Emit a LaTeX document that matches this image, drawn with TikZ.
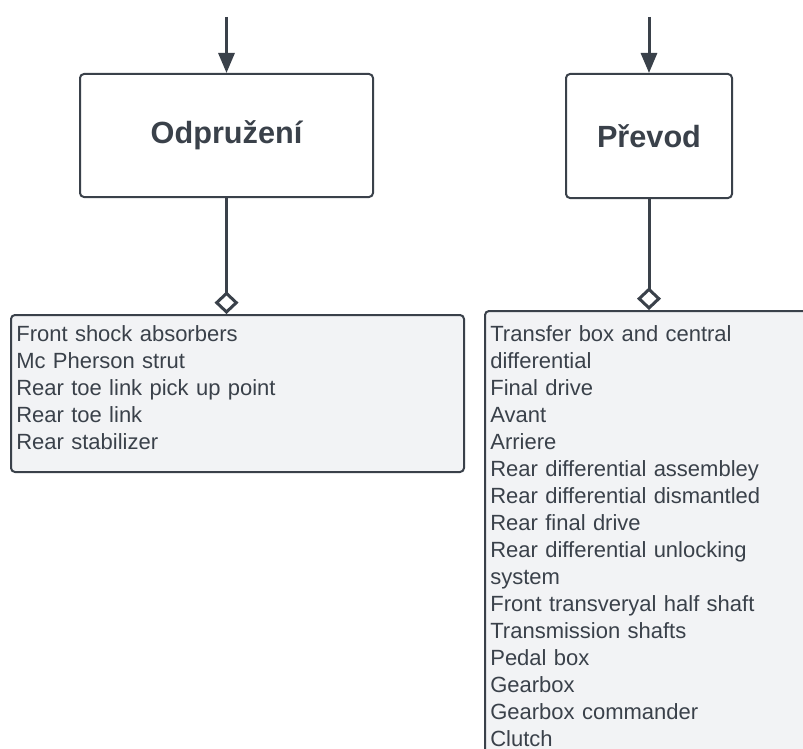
\documentclass[tikz,border=0pt]{standalone}
\usepackage{fontspec}
\setmainfont{Liberation Sans}
\usetikzlibrary{arrows.meta}
\definecolor{ink}{HTML}{3A414A}
\definecolor{listfill}{HTML}{F2F3F5}
\tikzset{
  titlebox/.style={
    rectangle,
    rounded corners=3pt,
    draw=ink,
    line width=1.5pt,
    fill=white,
    text=ink,
    font=\fontsize{23}{28}\selectfont\bfseries
  },
  listbox/.style={
    rectangle,
    rounded corners=3pt,
    draw=ink,
    line width=1.5pt,
    fill=listfill,
    text=ink,
    anchor=north west,
    align=left,
    inner xsep=4pt,
    inner ysep=8pt,
    text height=12pt,
    font=\fontsize{16.5}{20.25}\selectfont
  },
  arrow/.style={
    -{Triangle[length=15pt,width=12pt]},
    line width=2.25pt,
    draw=ink
  },
  aggr/.style={
    -{Diamond[open,length=17pt,width=18pt]},
    line width=2.25pt,
    draw=ink
  }
}

\begin{document}
\begin{tikzpicture}[x=0.75pt,y=-0.75pt]
  \useasboundingbox (0,0) rectangle (803,749);
  \clip (0,0) rectangle (803,749);

  \node[titlebox, minimum width=219.75pt, minimum height=92.25pt] (odpr) at (226.5,135.5) {Odpružení};
  \node[titlebox, minimum width=124.5pt, minimum height=93pt] (prev) at (649,136) {Převod};

  \node[listbox, text width=331.75pt, text depth=89.75pt] (odprlist) at (10,314)
    {Front shock absorbers\\Mc Pherson strut\\Rear toe link pick up point\\Rear toe link\\Rear stabilizer};
  \node[listbox, text width=250pt, text height=14.5pt, text depth=400pt] (prevlist) at (484,310)
    {Transfer box and central\\differential\\Final drive\\Avant\\Arriere\\Rear differential assembley\\Rear differential dismantled\\Rear final drive\\Rear differential unlocking\\system\\Front transveryal half shaft\\Transmission shafts\\Pedal box\\Gearbox\\Gearbox commander\\Clutch};

  \coordinate (odprin) at (226.5,17);
  \coordinate (previn) at (649,17);

  \draw[arrow] (odprin) -- (odpr.north);
  \draw[arrow] (previn) -- (prev.north);
  \draw[aggr] (odpr.south) -- (odpr.south |- odprlist.north);
  \draw[aggr] (prev.south) -- (prev.south |- prevlist.north);
\end{tikzpicture}
\end{document}
